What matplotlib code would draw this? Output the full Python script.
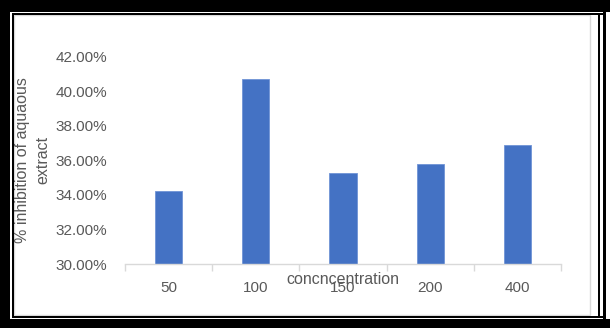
import matplotlib
matplotlib.use("Agg")
import matplotlib.pyplot as plt
from matplotlib.patches import Rectangle
import numpy as np

# data
categories = ["50", "100", "150", "200", "400"]
inhibition = [0.3425, 0.4071, 0.3526, 0.3580, 0.3688]
y_ticks = [0.30, 0.32, 0.34, 0.36, 0.38, 0.40, 0.42]

W, H = 610, 328
TXT = "#595959"
GRID = "#d9d9d9"
FS = 11

plt.rcParams["font.family"] = ["Liberation Sans", "DejaVu Sans"]

fig = plt.figure(figsize=(W / 100, H / 100), dpi=100)
fig.patch.set_facecolor("white")


def px_rect(x0, y0, x1, y1, color, fill=True, lw=0):
    # pixel box (top-left origin) -> figure fraction
    r = Rectangle((x0 / W, 1 - y1 / H), (x1 - x0) / W, (y1 - y0) / H,
                  transform=fig.transFigure, facecolor=color if fill else "none",
                  edgecolor=color, linewidth=lw, zorder=0)
    fig.add_artist(r)


# chart area border (light gray)
px_rect(14, 15, 590, 315, GRID, fill=False, lw=1)

# outer double black frame
px_rect(0, 0, W, 12, "black")
px_rect(0, 319, W, H, "black")
px_rect(0, 0, 10, H, "black")
px_rect(12, 13, 606, 15, "black")
px_rect(12, 13, 14, 317.5, "black")
px_rect(12, 316, 606, 317.5, "black")
px_rect(598, 13, 600, 317.5, "black")
px_rect(603, 12, 606, 319, "black")

ax = fig.add_axes([125 / W, (H - 264) / H, (561 - 125) / W, (264 - 57) / H])
ax.set_facecolor("none")

x = np.arange(len(categories))
ax.bar(x, inhibition, width=0.31, color="#4472C4", edgecolor="#6f93d6",
       linewidth=0.6, zorder=2)

ax.set_xlim(-0.5, len(categories) - 0.5)
ax.set_ylim(y_ticks[0], y_ticks[-1])

ax.set_yticks(y_ticks)
ax.set_yticklabels([f"{v * 100:.2f}%" for v in y_ticks])
ax.set_xticks(x)
ax.set_xticklabels(categories)
ax.set_xticks(np.arange(-0.5, len(categories), 1.0), minor=True)

for s in ["top", "right", "left"]:
    ax.spines[s].set_visible(False)
ax.spines["bottom"].set_color(GRID)
ax.spines["bottom"].set_linewidth(1.0)

ax.tick_params(axis="y", length=0, pad=13, labelsize=FS, labelcolor=TXT)
ax.tick_params(axis="x", which="major", length=0, pad=12, labelsize=FS,
               labelcolor=TXT)
ax.tick_params(axis="x", which="minor", length=5, width=1, color=GRID)

fig.text(343 / W, 1 - 279 / H, "concncentration", ha="center", va="center",
         fontsize=FS + 0.5, color=TXT)
fig.text(33 / W, 1 - 160 / H, "% inhibition of aquaous\nextract", ha="center",
         va="center", rotation=90, fontsize=FS + 0.5, color=TXT,
         linespacing=1.45)

fig.savefig("out.png", dpi=100)
